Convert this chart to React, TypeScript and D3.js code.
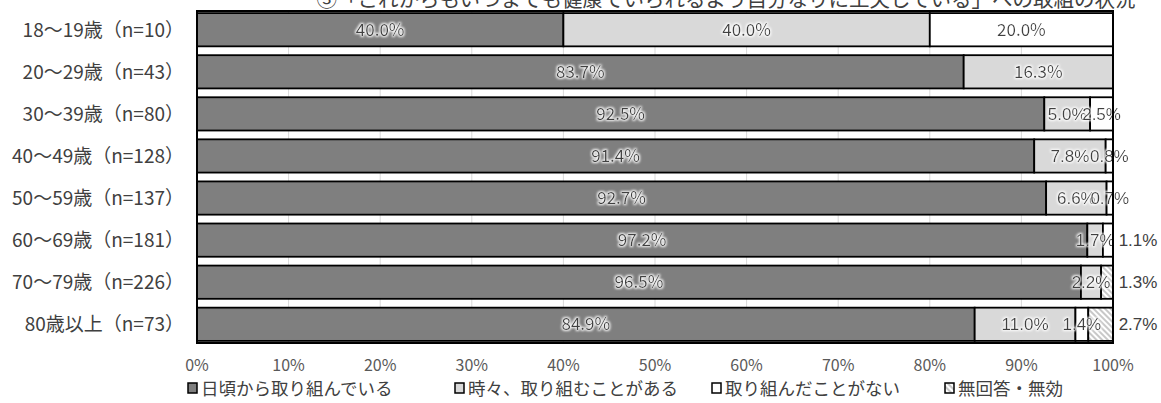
import { useRef, useEffect } from "react";
import * as d3 from "d3";

const categories = [
  "18～19歳（n=10）",
  "20～29歳（n=43）",
  "30～39歳（n=80）",
  "40～49歳（n=128）",
  "50～59歳（n=137）",
  "60～69歳（n=181）",
  "70～79歳（n=226）",
  "80歳以上（n=73）",
];
const seriesNames = ["日頃から取り組んでいる", "時々、取り組むことがある", "取り組んだことがない", "無回答・無効"];
const daily = [40.0, 83.7, 92.5, 91.4, 92.7, 97.2, 96.5, 84.9];
const sometimes = [40.0, 16.3, 5.0, 7.8, 6.6, 1.7, 2.2, 11.0];
const never = [20.0, 0, 2.5, 0.8, 0.7, 1.1, 0, 1.4];
const noAnswer = [0, 0, 0, 0, 0, 0, 1.3, 2.7];
// labels drawn to the right of the bar: [row, series]
const outsideLabels = [[5, 2], [6, 3], [7, 3]];
const ticks = [0, 10, 20, 30, 40, 50, 60, 70, 80, 90, 100];
const title = "③「これからもいつまでも健康でいられるよう自分なりに工夫している」への取組の状況";

const fills = ["#7f7f7f", "#d9d9d9", "#ffffff", "url(#hatch)"];
const legendX = [188, 455, 712, 945];
const textColor = "#404040";
const jp = "'Noto Sans CJK JP', sans-serif";

export default function App() {
  const svgRef = useRef<SVGSVGElement>(null);

  useEffect(() => {
    if (!svgRef.current) return;
    const svg = d3.select(svgRef.current);
    svg.selectAll("*").remove();

    const width = 1161;
    const height = 403;
    const plot = { left: 197, right: 1113, top: 11, bottom: 343 };

    const defs = svg.append("defs");
    const pat = defs.append("pattern")
      .attr("id", "hatch")
      .attr("patternUnits", "userSpaceOnUse")
      .attr("width", 4)
      .attr("height", 4)
      .attr("patternTransform", "rotate(45)");
    pat.append("rect").attr("width", 4).attr("height", 4).attr("fill", "#fff");
    pat.append("rect").attr("width", 4).attr("height", 2).attr("fill", "#c8c8c8");

    const glow = defs.append("filter").attr("id", "glow").attr("x", "-20%").attr("y", "-40%").attr("width", "140%").attr("height", "180%");
    glow.append("feMorphology").attr("in", "SourceAlpha").attr("operator", "dilate").attr("radius", 1.4).attr("result", "d");
    glow.append("feGaussianBlur").attr("in", "d").attr("stdDeviation", 1.1).attr("result", "b");
    glow.append("feFlood").attr("flood-color", "#fff").attr("flood-opacity", 0.95);
    glow.append("feComposite").attr("in2", "b").attr("operator", "in").attr("result", "g");
    const merge = glow.append("feMerge");
    merge.append("feMergeNode").attr("in", "g");
    merge.append("feMergeNode").attr("in", "SourceGraphic");

    svg.attr("width", width).attr("height", height);

    const x = d3.scaleLinear().domain([0, 100]).range([plot.left, plot.right]);
    const y = d3.scaleBand<number>()
      .domain(d3.range(categories.length))
      .range([plot.top, plot.bottom])
      .paddingInner(0.21)
      .paddingOuter(0.05);

    // title (cut off at the top like the source)
    svg.append("text")
      .attr("x", 726)
      .attr("y", 7)
      .attr("text-anchor", "middle")
      .attr("font-family", jp)
      .attr("font-size", 20.5)
      .attr("fill", textColor)
      .text(title);

    // gridlines
    svg.append("g")
      .selectAll("line")
      .data(ticks.slice(1, -1))
      .join("line")
      .attr("x1", (d) => x(d))
      .attr("x2", (d) => x(d))
      .attr("y1", plot.top)
      .attr("y2", plot.bottom)
      .attr("stroke", "#d9d9d9")
      .attr("stroke-width", 1);

    const table = categories.map((c, i) => ({
      category: c,
      values: [daily[i], sometimes[i], never[i], noAnswer[i]],
    }));

    const g = svg.append("g");
    table.forEach((row, i) => {
      let acc = 0;
      row.values.forEach((v, s) => {
        const x0 = acc;
        acc += v;
        if (v <= 0) return;
        g.append("rect")
          .attr("x", x(x0))
          .attr("y", y(i)!)
          .attr("width", x(acc) - x(x0))
          .attr("height", y.bandwidth())
          .attr("fill", fills[s])
          .attr("stroke", "#000")
          .attr("stroke-width", 1.8);
      });
    });

    // value labels
    const lg = svg.append("g");
    table.forEach((row, i) => {
      let acc = 0;
      row.values.forEach((v, s) => {
        const x0 = acc;
        acc += v;
        if (v <= 0) return;
        const outside = outsideLabels.some(([r, ss]) => r === i && ss === s);
        const cx = outside ? x(100) + 25 : (x(x0) + x(acc)) / 2;
        const wide = v < 15;
        lg.append("text")
          .attr("x", cx)
          .attr("y", y(i)! + y.bandwidth() / 2)
          .attr("dy", "0.36em")
          .attr("text-anchor", "middle")
          .attr("font-family", wide ? "'Liberation Sans', Arial, sans-serif" : jp)
          .attr("font-size", wide ? 17 : 17)
          .attr("fill", textColor)
          .attr("filter", outside ? null : "url(#glow)")
          .text(`${v.toFixed(1)}%`);
      });
    });

    // plot border
    svg.append("rect")
      .attr("x", plot.left)
      .attr("y", plot.top)
      .attr("width", plot.right - plot.left)
      .attr("height", plot.bottom - plot.top)
      .attr("fill", "none")
      .attr("stroke", "#000")
      .attr("stroke-width", 2);

    // category labels
    svg.append("g")
      .selectAll("text")
      .data(categories)
      .join("text")
      .attr("x", plot.left - 13)
      .attr("y", (_, i) => y(i)! + y.bandwidth() / 2)
      .attr("dy", "0.36em")
      .attr("text-anchor", "end")
      .attr("font-family", jp)
      .attr("font-size", 19)
      .attr("fill", textColor)
      .text((d) => d);

    // x tick labels
    svg.append("g")
      .selectAll("text")
      .data(ticks)
      .join("text")
      .attr("x", (d) => x(d))
      .attr("y", 371)
      .attr("text-anchor", "middle")
      .attr("font-family", jp)
      .attr("font-size", 16)
      .attr("fill", "#595959")
      .text((d) => `${d}%`);

    // legend
    const leg = svg.append("g");
    seriesNames.forEach((name, s) => {
      leg.append("rect")
        .attr("x", legendX[s])
        .attr("y", 383)
        .attr("width", 9)
        .attr("height", 10)
        .attr("fill", fills[s])
        .attr("stroke", "#000")
        .attr("stroke-width", 1.5);
      leg.append("text")
        .attr("x", legendX[s] + 13)
        .attr("y", 395)
        .attr("font-family", jp)
        .attr("font-size", 17.5)
        .attr("fill", textColor)
        .text(name);
    });
  }, []);

  return (
    <div style={{ position: "absolute", left: 0, top: 0, background: "#fff" }}>
      <svg ref={svgRef} style={{ display: "block" }} />
    </div>
  );
}
